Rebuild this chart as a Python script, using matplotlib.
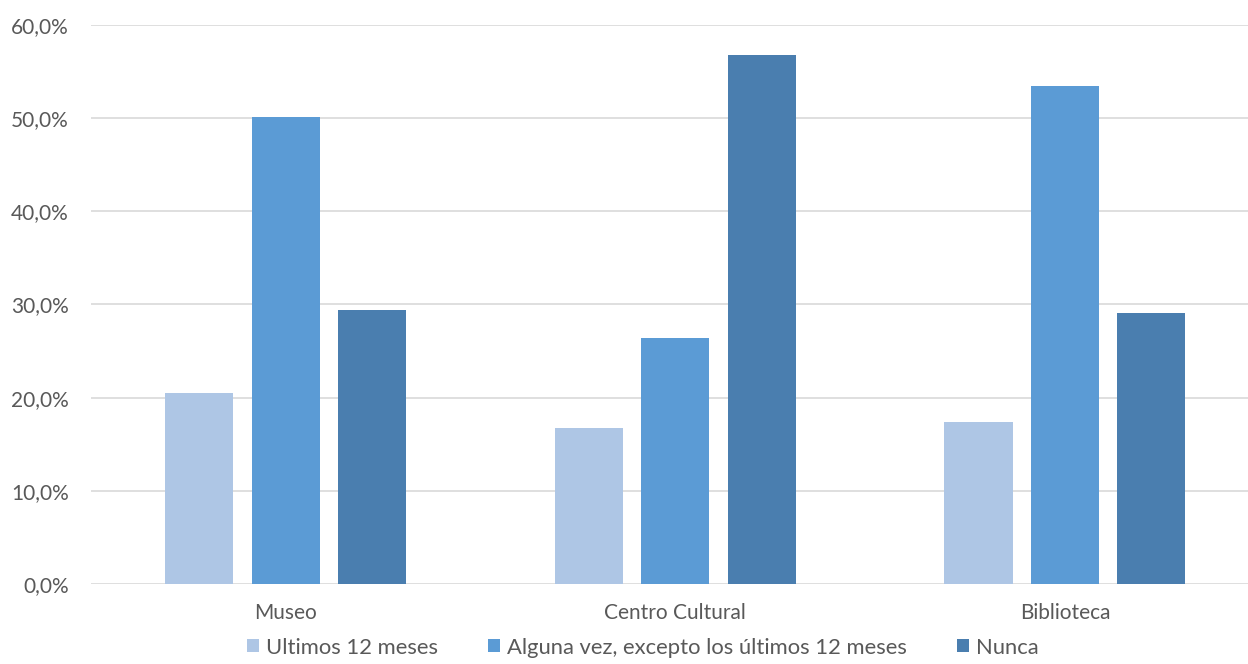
import matplotlib
matplotlib.use("Agg")
import matplotlib.pyplot as plt
from matplotlib.patches import Patch
import numpy as np

categories = ["Museo", "Centro Cultural", "Biblioteca"]
series_names = ["Ultimos 12 meses", "Alguna vez, excepto los últimos 12 meses", "Nunca"]
ultimos = [20.5, 16.7, 17.4]
alguna_vez = [50.1, 26.4, 53.5]
nunca = [29.4, 56.8, 29.1]
yticks = [0, 10, 20, 30, 40, 50, 60]
ytick_labels = ["0,0%", "10,0%", "20,0%", "30,0%", "40,0%", "50,0%", "60,0%"]

colors = ["#AEC6E5", "#5B9BD5", "#4A7EAF"]
plt.rcParams['font.family'] = ['Lato', 'DejaVu Sans']

fig = plt.figure(figsize=(12.48, 6.64), dpi=100)
ax = fig.add_axes([91/1248, 1-584/664, (1248-91)/1248, (584-25)/664])

x = np.arange(len(categories))
offsets = [-0.222, 0.0, 0.222]
width = 0.175
for vals, off, col in zip([ultimos, alguna_vez, nunca], offsets, colors):
    ax.bar(x + off, vals, width, color=col, zorder=3)

ax.set_xlim(-0.5, 2.47)
ax.set_ylim(0, 60)
ax.set_yticks(yticks)
ax.set_yticklabels(ytick_labels)
ax.set_xticks(x)
ax.set_xticklabels(categories)
ax.grid(axis='y', color='#D9D9D9', linewidth=1.2, zorder=0)
for s in ax.spines.values():
    s.set_visible(False)
ax.tick_params(axis='both', length=0, labelsize=15, colors='#595959')
ax.tick_params(axis='y', pad=16)
ax.tick_params(axis='x', pad=14)

handles = [Patch(facecolor=c) for c in colors]
fig.legend(handles, series_names, loc='lower center', bbox_to_anchor=(0.515, -0.02),
           ncol=3, frameon=False, fontsize=15.8, handlelength=0.55, handleheight=0.55,
           handletextpad=0.3, columnspacing=2.3, labelcolor='#595959')

fig.savefig("out.png", dpi=100)
